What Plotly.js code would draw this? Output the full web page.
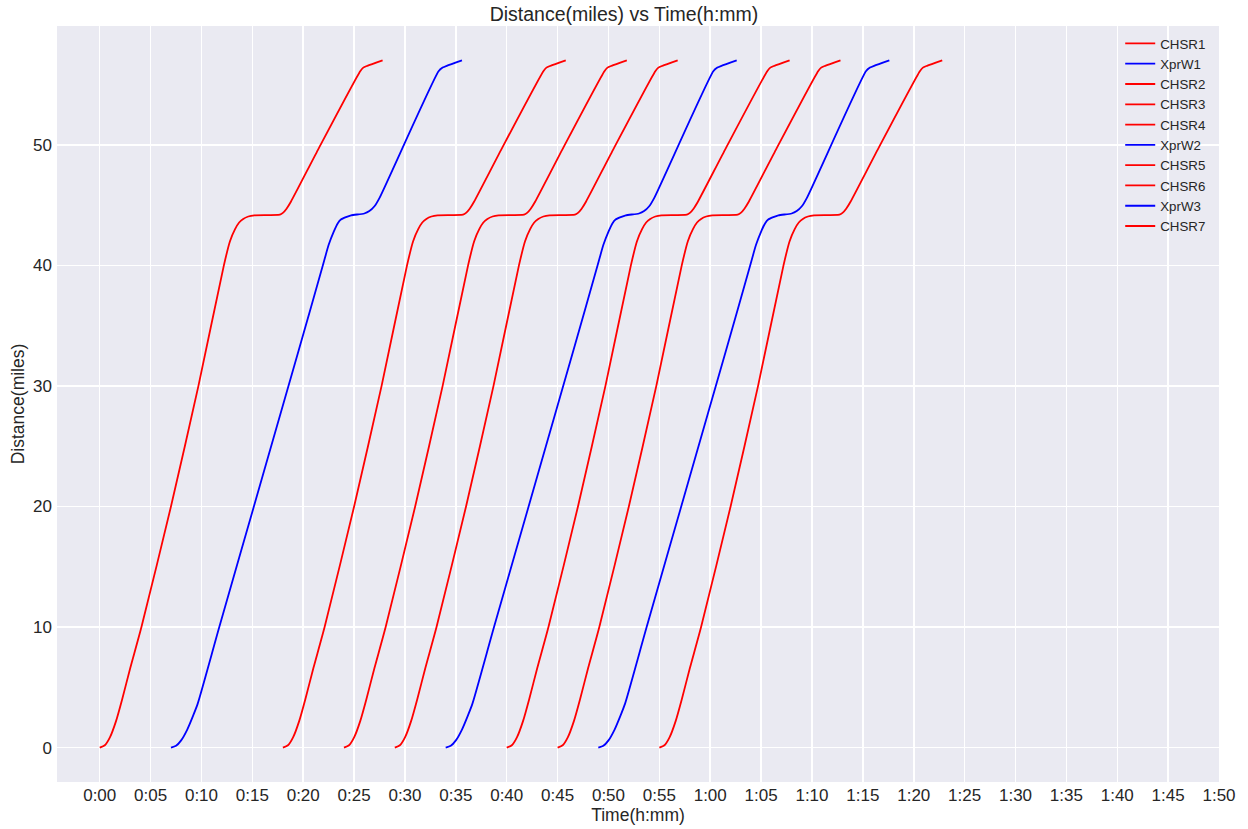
<!DOCTYPE html>
<html>
<head>
<meta charset="utf-8">
<script src="https://cdn.plot.ly/plotly-3.0.1.min.js"></script>
<style>html,body{margin:0;padding:0;background:#fff;}#chart{width:1248px;height:829px;}</style>
</head>
<body>
<div id="chart"></div>
<script>
// Train names, types and departure times (minutes after 0:00)
const trainNames = ["CHSR1","XprW1","CHSR2","CHSR3","CHSR4","XprW2","CHSR5","CHSR6","XprW3","CHSR7"];
const trainTypes = ["CHSR","XprW","CHSR","CHSR","CHSR","XprW","CHSR","CHSR","XprW","CHSR"];
const departMin  = [0, 7, 18, 24, 29, 34, 40, 45, 49, 55];

// Distance profile: minutes since departure vs miles
const chsrTime = [0, 0.5, 1.0, 1.6, 2.2, 3.0, 4.1, 7.0, 9.7, 12.2, 12.8, 13.3, 13.7, 14.1, 14.6, 15.2, 17.7, 18.0, 18.36, 18.8, 21.46, 25.6, 25.9, 26.3, 27.8];
const chsrDist = [0, 0.2, 0.85, 2.2, 4.0, 6.6, 10, 20, 30, 40, 42.0, 43.0, 43.55, 43.85, 44.05, 44.15, 44.2, 44.35, 44.7, 45.3, 49.6, 56.1, 56.4, 56.55, 57.0];
const xprwTime = [0, 0.5, 1.0, 1.6, 2.2, 2.63, 4.75, 9.0, 12.57, 14.93, 15.5, 16.0, 16.4, 16.7, 17.2, 17.7, 19.0, 19.5, 20.0, 20.5, 26.3, 26.7, 27.1, 28.6];
const xprwDist = [0, 0.15, 0.6, 1.5, 2.7, 3.65, 10, 22.5, 33, 40, 41.7, 42.8, 43.5, 43.8, 44.0, 44.15, 44.3, 44.5, 44.9, 45.6, 56.1, 56.4, 56.55, 57.0];

const typeColor = {CHSR: "#ff0000", XprW: "#0000ff"};

// x tick labels
const tickMinutes = [0,5,10,15,20,25,30,35,40,45,50,55,60,65,70,75,80,85,90,95,100,105,110];
const tickLabels = ["0:00","0:05","0:10","0:15","0:20","0:25","0:30","0:35","0:40","0:45","0:50","0:55","1:00","1:05","1:10","1:15","1:20","1:25","1:30","1:35","1:40","1:45","1:50"];
const yTicks = [0,10,20,30,40,50];

const traces = trainNames.map((name, i) => {
  const isC = trainTypes[i] === "CHSR";
  const pt = isC ? chsrTime : xprwTime;
  const pd = isC ? chsrDist : xprwDist;
  return {
    type: "scatter", mode: "lines", name: name,
    x: pt.map(t => t + departMin[i]), y: pd,
    line: {color: typeColor[trainTypes[i]], width: 1.8, shape: "spline", smoothing: 0.6}
  };
});

const fontFam = "Liberation Sans, Arial, Helvetica, sans-serif";
const layout = {
  width: 1248, height: 829,
  paper_bgcolor: "#ffffff", plot_bgcolor: "#EAEAF2",
  margin: {l: 57, r: 29, t: 26, b: 47, pad: 0},
  title: {text: "Distance(miles) vs Time(h:mm)", x: 0.5, xanchor: "center", y: 0.983, yanchor: "middle",
          font: {family: fontFam, size: 19.5, color: "#262626"}},
  font: {family: fontFam, color: "#262626"},
  xaxis: {
    range: [-4.2, 110], tickmode: "array", tickvals: tickMinutes, ticktext: tickLabels,
    showgrid: true, gridcolor: "#ffffff", gridwidth: 1.5, zeroline: false, showline: false,
    ticks: "", ticklen: 0, ticklabelstandoff: 1, tickfont: {size: 17, color: "#262626"},
    title: {text: "Time(h:mm)", font: {size: 17.5, color: "#262626"}, standoff: 1}
  },
  yaxis: {
    range: [-2.85, 59.85], tickmode: "array", tickvals: yTicks,
    showgrid: true, gridcolor: "#ffffff", gridwidth: 1.5, zeroline: false, showline: false,
    ticks: "", ticklabelstandoff: 4, tickfont: {size: 17, color: "#262626"},
    title: {text: "Distance(miles)", font: {size: 17.5, color: "#262626"}, standoff: 3}
  },
  legend: {x: 0.9933, xanchor: "right", y: 0.997, yanchor: "top", bgcolor: "rgba(0,0,0,0)",
           font: {size: 13.3, color: "#262626"}, itemwidth: 30, tracegroupgap: 0},
  showlegend: true
};

Plotly.newPlot("chart", traces, layout, {displayModeBar: false, staticPlot: true});
</script>
</body>
</html>
